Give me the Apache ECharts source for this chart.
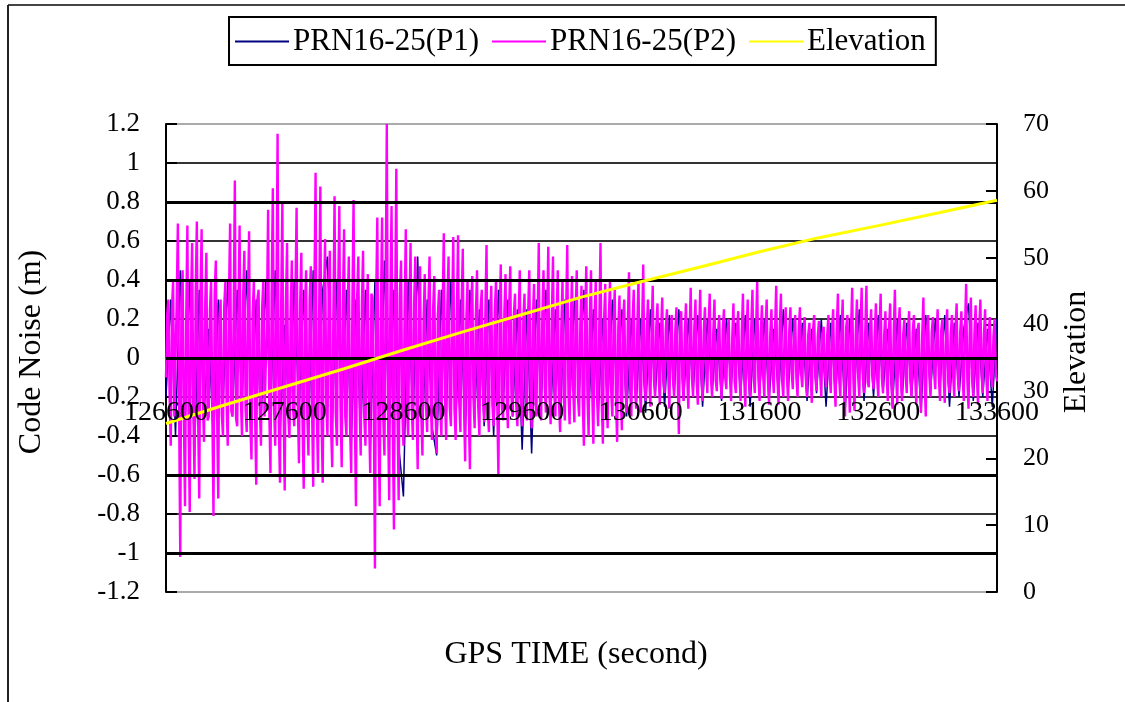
<!DOCTYPE html>
<html>
<head>
<meta charset="utf-8">
<script src="https://cdn.jsdelivr.net/npm/echarts@6/dist/echarts.min.js"></script>
<style>
html,body{margin:0;padding:0;background:#fff;}
#chart{width:1125px;height:702px;}
</style>
</head>
<body>
<div id="chart"></div>
<script>
// ---- data ----
const TIME_START = 126600;
const P1_STEP = 40; // seconds between P1 samples
const P2_STEP = 10; // seconds between P2 samples
const SERIES_NAMES = ['PRN16-25(P1)', 'PRN16-25(P2)', 'Elevation'];

const P1 = [
  -0.20, 0.30, -0.40, 0.45, -0.35, 0.40, -0.50, 0.35, -0.30, 0.15, -0.45, 0.30, -0.25, 0.40, -0.30, 0.35, -0.25, 0.45, -0.30, 0.30, -0.35, 0.40, -0.30, 0.45, -0.40,
  0.17, -0.35, 0.40, -0.30, 0.35, -0.40, 0.45, -0.30, 0.35, 0.52, -0.35, 0.40, -0.30, 0.35, -0.45, 0.30, -0.40, 0.35, -0.50, 0.40, -0.45, 0.50, -0.40, 0.35, -0.45,
  -0.71, 0.40, -0.35, 0.52, -0.40, 0.30, -0.35, -0.50, 0.35, -0.30, 0.40, -0.35, 0.30, -0.40, 0.35, -0.30, 0.25, -0.35, 0.30, -0.40, 0.35, -0.25, 0.30, -0.30, 0.25,
  -0.47, 0.25, -0.49, 0.30, -0.25, 0.35, -0.30, 0.25, -0.35, 0.30, -0.25, 0.30, -0.20, 0.35, -0.30, 0.25, -0.30, 0.20, -0.25, 0.30, -0.20, 0.25, -0.30, 0.20, -0.25,
  0.20, -0.28, 0.25, -0.20, 0.18, -0.25, 0.22, -0.20, 0.25, -0.22, 0.20, -0.18, 0.22, -0.25, 0.20, -0.18, 0.15, -0.22, 0.20, -0.15, 0.18, -0.20, 0.22, -0.25, 0.20,
  -0.18, 0.20, -0.22, 0.15, -0.20, 0.25, -0.18, 0.20, -0.15, 0.18, -0.22, 0.15, -0.18, 0.20, -0.25, 0.18, -0.20, 0.22, -0.28, 0.20, -0.15, 0.25, -0.22, 0.18, -0.20,
  0.22, -0.18, 0.15, -0.25, 0.20, -0.22, 0.18, -0.20, 0.15, -0.28, 0.22, -0.18, 0.20, -0.15, 0.22, -0.25, 0.18, -0.20, 0.15, 0.28, -0.22, 0.18, -0.20, 0.15, -0.25, 0.20
];

const P2 = [
  // 126600 - 127590
  -0.10, 0.22, 0.30, -0.18, -0.45, 0.25, 0.40, -0.30, -0.30, 0.28,
  0.69, -0.22, -1.02, 0.31, 0.45, -0.27, -0.76, 0.20, 0.68, -0.33,
  -0.79, 0.26, 0.59, -0.24, -0.62, 0.35, 0.70, -0.28, -0.72, 0.30,
  0.66, -0.21, -0.43, 0.27, 0.54, -0.32, -0.30, 0.24, 0.40, -0.26,
  -0.81, 0.33, 0.50, -0.25, -0.72, 0.21, 0.30, -0.29, -0.40, 0.26,
  0.39, -0.22, -0.45, 0.30, 0.69, -0.27, -0.30, 0.23, 0.91, -0.31,
  -0.35, 0.25, 0.68, -0.20, -0.40, 0.32, 0.55, -0.26, -0.38, 0.28,
  0.65, -0.33, -0.52, 0.22, 0.40, -0.27, -0.65, 0.30, 0.35, -0.24,
  -0.45, 0.26, 0.40, -0.30, -0.30, 0.21, 0.76, -0.28, -0.59, 0.34,
  0.87, -0.25, -0.45, 0.29, 1.15, -0.32, -0.64, 0.27, 0.79, -0.23,
  // 127600 - 128590
  -0.68, 0.27, 0.59, -0.30, -0.41, 0.24, 0.50, -0.26, -0.35, 0.31,
  0.77, -0.22, -0.54, 0.28, 0.54, -0.33, -0.67, 0.25, 0.45, -0.29,
  -0.50, 0.30, 0.47, -0.24, -0.66, 0.33, 0.95, -0.27, -0.59, 0.22,
  0.88, -0.31, -0.64, 0.26, 0.61, -0.23, -0.40, 0.29, 0.55, -0.35,
  -0.56, 0.24, 0.83, -0.28, -0.45, 0.32, 0.78, -0.25, -0.56, 0.27,
  0.66, -0.30, -0.40, 0.23, 0.52, -0.34, -0.59, 0.28, 0.81, -0.26,
  -0.76, 0.31, 0.52, -0.22, -0.50, 0.27, 0.55, -0.30, -0.45, 0.25,
  0.43, -0.28, -0.59, 0.33, 0.31, -0.24, -1.08, 0.29, 0.72, -0.36,
  -0.76, 0.26, 0.72, -0.31, -0.50, 0.34, 1.20, -0.27, -0.73, 0.30,
  0.78, -0.33, -0.88, 0.25, 0.97, -0.29, -0.73, 0.32, 0.50, -0.26,
  // 128600 - 129590
  -0.45, 0.24, 0.66, -0.27, -0.40, 0.21, 0.59, -0.25, -0.42, 0.28,
  0.52, -0.22, -0.57, 0.26, 0.47, -0.28, -0.50, 0.20, 0.43, -0.24,
  -0.38, 0.27, 0.52, -0.21, -0.42, 0.25, 0.42, -0.26, -0.49, 0.22,
  0.35, -0.27, -0.40, 0.24, 0.64, -0.20, -0.42, 0.27, 0.52, -0.25,
  -0.35, 0.21, 0.62, -0.26, -0.42, 0.23, 0.63, -0.22, -0.38, 0.26,
  0.56, -0.24, -0.53, 0.20, 0.40, -0.27, -0.57, 0.25, 0.42, -0.21,
  -0.36, 0.22, 0.45, -0.25, -0.40, 0.26, 0.35, -0.20, -0.33, 0.23,
  0.58, -0.26, -0.38, 0.21, 0.37, -0.24, -0.35, 0.25, 0.40, -0.22,
  -0.61, 0.20, 0.48, -0.25, -0.32, 0.23, 0.43, -0.21, -0.36, 0.24,
  0.47, -0.20, -0.30, 0.22, 0.33, -0.24, -0.35, 0.19, 0.45, -0.22,
  // 129600 - 130590
  -0.35, 0.20, 0.33, -0.18, -0.32, 0.22, 0.45, -0.16, -0.36, 0.19,
  0.38, -0.20, -0.30, 0.17, 0.59, -0.21, -0.32, 0.22, 0.45, -0.15,
  -0.28, 0.18, 0.57, -0.19, -0.34, 0.21, 0.52, -0.17, -0.30, 0.20,
  0.45, -0.22, -0.38, 0.16, 0.40, -0.19, -0.32, 0.21, 0.58, -0.18,
  -0.34, 0.19, 0.42, -0.16, -0.33, 0.22, 0.45, -0.20, -0.30, 0.17,
  0.37, -0.21, -0.45, 0.18, 0.47, -0.19, -0.40, 0.20, 0.45, -0.16,
  -0.44, 0.21, 0.40, -0.18, -0.35, 0.17, 0.59, -0.20, -0.44, 0.19,
  0.38, -0.15, -0.36, 0.20, 0.40, -0.17, -0.30, 0.18, 0.35, -0.19,
  -0.43, 0.16, 0.32, -0.18, -0.37, 0.19, 0.30, -0.14, -0.28, 0.17,
  0.44, -0.16, -0.30, 0.18, 0.35, -0.15, -0.26, 0.16, 0.40, -0.14,
  // 130600 - 131590
  -0.28, 0.14, 0.48, -0.10, -0.22, 0.15, 0.30, -0.08, -0.25, 0.12,
  0.37, -0.11, -0.20, 0.16, 0.28, -0.09, -0.24, 0.13, 0.31, -0.12,
  -0.18, 0.15, 0.25, -0.07, -0.26, 0.12, 0.22, -0.10, -0.20, 0.14,
  0.26, -0.09, -0.39, 0.16, 0.24, -0.11, -0.22, 0.13, 0.28, -0.08,
  -0.26, 0.12, 0.36, -0.10, -0.20, 0.15, 0.30, -0.12, -0.24, 0.11,
  0.35, -0.09, -0.22, 0.14, 0.26, -0.07, -0.18, 0.16, 0.33, -0.10,
  -0.20, 0.13, 0.30, -0.11, -0.17, 0.12, 0.22, -0.08, -0.21, 0.15,
  0.25, -0.10, -0.16, 0.14, 0.20, -0.09, -0.22, 0.11, 0.28, -0.12,
  -0.18, 0.15, 0.24, -0.08, -0.22, 0.13, 0.33, -0.10, -0.25, 0.12,
  0.30, -0.11, -0.20, 0.16, 0.35, -0.09, -0.18, 0.13, 0.40, -0.10,
  // 131600 - 132590
  -0.22, 0.13, 0.27, -0.09, -0.20, 0.15, 0.30, -0.11, -0.24, 0.12,
  0.25, -0.08, -0.18, 0.14, 0.37, -0.10, -0.24, 0.16, 0.33, -0.12,
  -0.20, 0.11, 0.26, -0.09, -0.22, 0.14, 0.26, -0.07, -0.16, 0.12,
  0.22, -0.10, -0.20, 0.15, 0.26, -0.08, -0.15, 0.13, 0.21, -0.11,
  -0.20, 0.12, 0.18, -0.09, -0.23, 0.14, 0.22, -0.10, -0.17, 0.11,
  0.19, -0.08, -0.20, 0.13, 0.16, -0.07, -0.15, 0.12, 0.22, -0.09,
  -0.18, 0.14, 0.25, -0.11, -0.25, 0.15, 0.33, -0.10, -0.20, 0.13,
  0.30, -0.12, -0.30, 0.16, 0.22, -0.08, -0.28, 0.14, 0.36, -0.11,
  -0.27, 0.12, 0.30, -0.09, -0.20, 0.15, 0.36, -0.10, -0.18, 0.13,
  0.37, -0.12, -0.15, 0.14, 0.25, -0.08, -0.16, 0.12, 0.28, -0.10,
  // 132600 - 133600
  -0.20, 0.14, 0.33, -0.10, -0.18, 0.12, 0.24, -0.09, -0.22, 0.15,
  0.28, -0.11, -0.26, 0.13, 0.35, -0.08, -0.24, 0.14, 0.26, -0.10,
  -0.22, 0.12, 0.20, -0.09, -0.18, 0.15, 0.24, -0.11, -0.20, 0.13,
  0.22, -0.08, -0.24, 0.14, 0.18, -0.10, -0.28, 0.12, 0.31, -0.11,
  -0.30, 0.15, 0.22, -0.09, -0.20, 0.13, 0.21, -0.07, -0.16, 0.12,
  0.25, -0.10, -0.22, 0.14, 0.20, -0.09, -0.23, 0.13, 0.25, -0.11,
  -0.18, 0.12, 0.22, -0.08, -0.20, 0.15, 0.28, -0.10, -0.17, 0.13,
  0.24, -0.09, -0.22, 0.14, 0.38, -0.11, -0.26, 0.12, 0.31, -0.10,
  -0.20, 0.13, 0.27, -0.09, -0.24, 0.15, 0.30, -0.08, -0.18, 0.12,
  0.25, -0.10, -0.22, 0.14, 0.21, -0.09, -0.15, 0.11, 0.20, -0.08,
  -0.12
];

const ELEV_TIME = [126600, 127100, 127600, 128100, 128600, 129100, 129600, 130100, 130600, 131100, 131600, 132100, 132600, 133100, 133600];
const ELEV = [25.2, 28.0, 30.7, 33.4, 36.2, 38.9, 41.5, 44.1, 46.4, 48.6, 50.9, 53.0, 54.8, 56.7, 58.6];

const HEAVY_GRID = [0.8, 0.4, 0, -0.6, -1.0];

// ---- chart ----
const FONT = '"Liberation Serif", "Times New Roman", serif';
const chart = echarts.init(document.getElementById('chart'), null, {renderer: 'canvas'});

const toPts = (arr, step) => arr.map((v, i) => [TIME_START + step * i, v]);

const option = {
  animation: false,
  backgroundColor: '#fff',
  grid: {left: 166, right: 128, top: 124, bottom: 110, containLabel: false},
  legend: {
    data: SERIES_NAMES,
    left: 229, top: 17,
    icon: 'rect', itemWidth: 54, itemHeight: 2, itemGap: 13,
    padding: [9, 10, 8, 6],
    borderColor: '#000', borderWidth: 2,
    textStyle: {fontFamily: FONT, fontSize: 31, color: '#000', padding: [0, 0, 0, -1]}
  },
  xAxis: {
    type: 'value', min: 126600, max: 133600, interval: 1000,
    position: 'bottom', offset: -195, z: 10,
    axisLine: {show: false}, axisTick: {show: false}, splitLine: {show: false},
    axisLabel: {fontFamily: FONT, fontSize: 28, color: '#000', margin: 2, showMinLabel: true, showMaxLabel: true,
      formatter: v => String(v)}
  },
  yAxis: [
    {
      type: 'value', min: -1.2, max: 1.2, interval: 0.2, position: 'left',
      axisLine: {show: true, lineStyle: {color: '#000', width: 2}},
      axisTick: {show: true, inside: true, length: 11, lineStyle: {color: '#000', width: 2}},
      axisLabel: {fontFamily: FONT, fontSize: 27, color: '#000', margin: 26,
        formatter: v => String(Math.round(v * 10) / 10)},
      splitLine: {show: true, lineStyle: {width: 2,
        color: ['#aaa', '#333', '#333', '#333', '#333', '#333', '#333', '#333', '#333', '#333', '#333', '#333', '#aaa']}}
    },
    {
      type: 'value', min: 0, max: 70, interval: 10, position: 'right',
      axisLine: {show: true, lineStyle: {color: '#000', width: 2}},
      axisTick: {show: true, inside: true, length: 11, lineStyle: {color: '#000', width: 2}},
      axisLabel: {fontFamily: FONT, fontSize: 26, color: '#000', margin: 26},
      splitLine: {show: false}
    }
  ],
  series: [
    {
      name: '_grid', type: 'line', data: [], z: 1, silent: true,
      markLine: {
        silent: true, symbol: ['none', 'none'], label: {show: false},
        lineStyle: {color: '#000', width: 3, type: 'solid'},
        data: HEAVY_GRID.map(v => ({yAxis: v}))
      }
    },
    {
      name: SERIES_NAMES[0], type: 'line', data: toPts(P1, P1_STEP), showSymbol: false,
      lineStyle: {color: '#000080', width: 1.5}, itemStyle: {color: '#000080'}, z: 3
    },
    {
      name: SERIES_NAMES[1], type: 'line', data: toPts(P2, P2_STEP), showSymbol: false,
      lineStyle: {color: '#ff00ff', width: 2.4}, itemStyle: {color: '#ff00ff'}, z: 4
    },
    {
      name: SERIES_NAMES[2], type: 'line', yAxisIndex: 1,
      data: ELEV_TIME.map((t, i) => [t, ELEV[i]]), showSymbol: false,
      lineStyle: {color: '#ffff00', width: 3}, itemStyle: {color: '#ffff00'}, z: 5
    }
  ],
  graphic: [
    {type: 'line', shape: {x1: 8, y1: 5, x2: 1125, y2: 5}, style: {stroke: '#444', lineWidth: 2}},
    {type: 'line', shape: {x1: 8, y1: 5, x2: 8, y2: 702}, style: {stroke: '#222', lineWidth: 2}},
    {type: 'text', x: 32, y: 352, rotation: Math.PI / 2,
      style: {text: 'Code Noise (m)', font: '32px ' + FONT, fill: '#000', align: 'center', verticalAlign: 'middle'}},
    {type: 'text', x: 1077, y: 352, rotation: Math.PI / 2,
      style: {text: 'Elevation', font: '32px ' + FONT, fill: '#000', align: 'center', verticalAlign: 'middle'}},
    {type: 'text', x: 576, y: 655,
      style: {text: 'GPS TIME (second)', font: '32px ' + FONT, fill: '#000', align: 'center', verticalAlign: 'middle'}}
  ]
};
chart.setOption(option);
</script>
</body>
</html>
